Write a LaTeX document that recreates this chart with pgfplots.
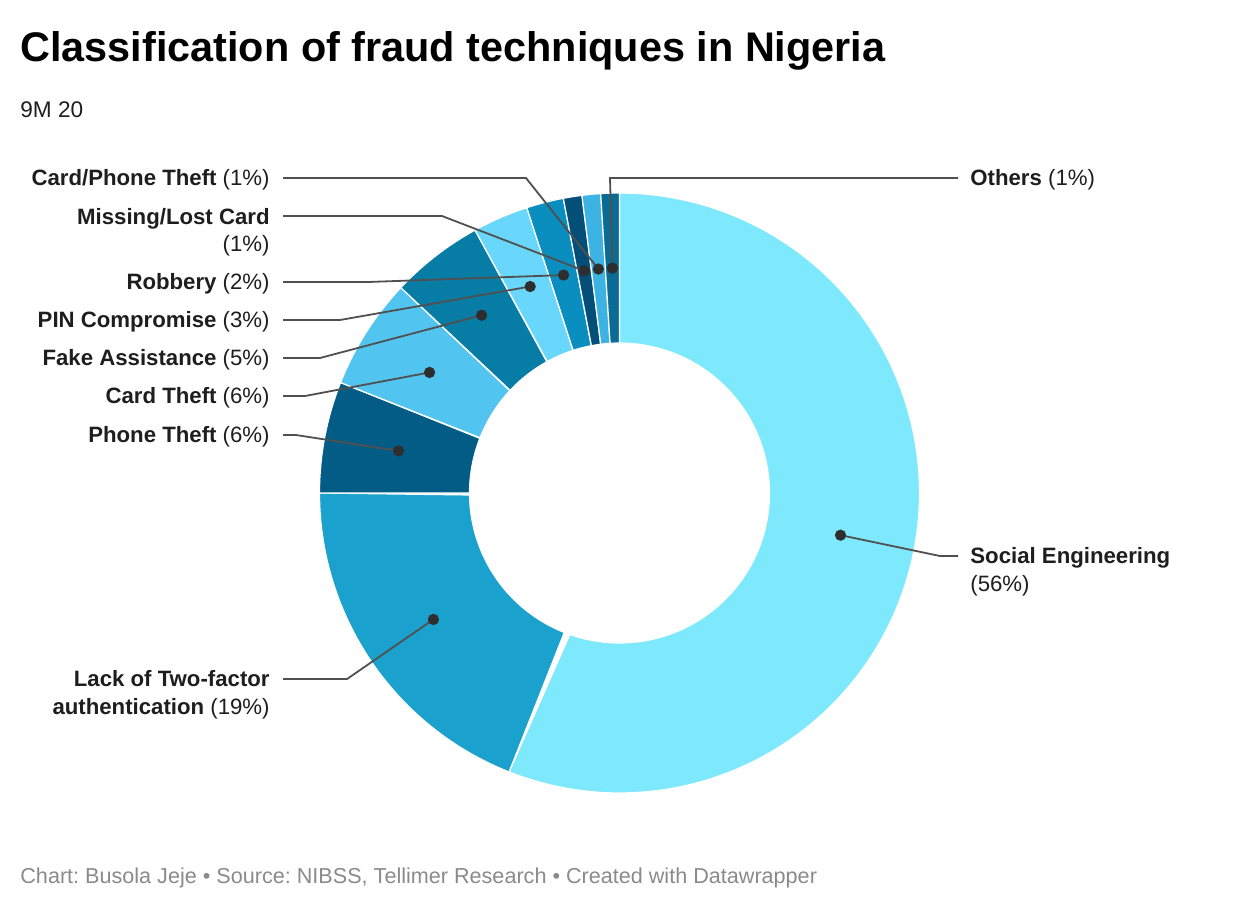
\documentclass[border=0pt]{standalone}
\usepackage{pgfplots}
\pgfplotsset{compat=1.18}
\usepackage{fontspec}
\setmainfont{Liberation Sans}
\frenchspacing

\definecolor{cSE}{HTML}{7EE9FD}
\definecolor{cLTF}{HTML}{1BA1CD}
\definecolor{cPT}{HTML}{035C86}
\definecolor{cCT}{HTML}{52C4F0}
\definecolor{cFA}{HTML}{077CA5}
\definecolor{cPIN}{HTML}{69D7FB}
\definecolor{cRB}{HTML}{098EBF}
\definecolor{cML}{HTML}{034F78}
\definecolor{cCP}{HTML}{3CB3E2}
\definecolor{cOT}{HTML}{0A6C94}
\definecolor{leadc}{HTML}{505050}
\definecolor{dotc}{HTML}{2E2E2E}
\definecolor{labc}{HTML}{1E1E1E}
\definecolor{footc}{HTML}{8A8A8A}

% donut geometry (pixel units): centre, outer and inner radius
\def\cx{619.5}\def\cy{493}\def\Ro{300}\def\Ri{150}\def\Rm{225}

% dot position at the middle of a slice: name, cumulative share before, share
\newcommand\dotpos[3]{%
  \pgfmathsetmacro\tmpang{90-3.6*(#2+#3/2)}%
  \expandafter\pgfmathsetmacro\csname dx#1\endcsname{\cx+\Rm*cos(\tmpang)}%
  \expandafter\pgfmathsetmacro\csname dy#1\endcsname{\cy-\Rm*sin(\tmpang)}%
}
% shares (%), clockwise from the top
\dotpos{SE}{0}{56}
\dotpos{LTF}{56}{19}
\dotpos{PT}{75}{6}
\dotpos{CT}{81}{6}
\dotpos{FA}{87}{5}
\dotpos{PIN}{92}{3}
\dotpos{RB}{95}{2}
\dotpos{ML}{97}{1}
\dotpos{CP}{98}{1}
\dotpos{OT}{99}{1}

% donut slice: cumulative share before, share, colour
\newcommand\donutslice[3]{%
  \addplot[fill=#3, draw=white, line width=0.6pt, domain=0:2, samples=181, variable=\t]
   ({\cx + (\t<=1 ? \Ro : \Ri)*cos(90-3.6*(#1 + (\t<=1 ? #2*\t : #2*(2-\t))))},
    {\cy - (\t<=1 ? \Ro : \Ri)*sin(90-3.6*(#1 + (\t<=1 ? #2*\t : #2*(2-\t))))}) -- cycle;
}

\newcommand\lab[1]{\textbf{#1}}

\begin{document}
\begin{tikzpicture}
\begin{axis}[
  width=620pt, height=455pt, scale only axis,
  xmin=0, xmax=1240, ymin=0, ymax=910, y dir=reverse,
  hide axis, clip=false,
  leader/.style={leadc, line width=0.9pt, mark=none},
]
\path (axis cs:0,0) rectangle (axis cs:1240,910);

\donutslice{0}{56}{cSE}
\donutslice{56}{19}{cLTF}
\donutslice{75}{6}{cPT}
\donutslice{81}{6}{cCT}
\donutslice{87}{5}{cFA}
\donutslice{92}{3}{cPIN}
\donutslice{95}{2}{cRB}
\donutslice{97}{1}{cML}
\donutslice{98}{1}{cCP}
\donutslice{99}{1}{cOT}

% leader lines
\addplot[leader] coordinates {(\dxSE,\dySE) (940,556) (958,556)};
\addplot[leader] coordinates {(\dxLTF,\dyLTF) (347,679) (283,679)};
\addplot[leader] coordinates {(\dxPT,\dyPT) (296,435) (283,435)};
\addplot[leader] coordinates {(\dxCT,\dyCT) (305,396) (283,396)};
\addplot[leader] coordinates {(\dxFA,\dyFA) (320,358) (283,358)};
\addplot[leader] coordinates {(\dxPIN,\dyPIN) (340,320) (283,320)};
\addplot[leader] coordinates {(\dxRB,\dyRB) (368,282) (283,282)};
\addplot[leader] coordinates {(\dxML,\dyML) (442,216) (283,216)};
\addplot[leader] coordinates {(\dxCP,\dyCP) (526,178) (283,178)};
\addplot[leader] coordinates {(\dxOT,\dyOT) (610,178) (958,178)};

% dots
\addplot[only marks, mark=*, mark size=2.6pt, color=dotc] coordinates {
  (\dxSE,\dySE) (\dxLTF,\dyLTF) (\dxPT,\dyPT) (\dxCT,\dyCT) (\dxFA,\dyFA)
  (\dxPIN,\dyPIN) (\dxRB,\dyRB) (\dxML,\dyML) (\dxCP,\dyCP) (\dxOT,\dyOT)};

% titles
\node[anchor=base west, inner sep=0pt, font=\fontsize{20.7}{24}\selectfont\bfseries]
  at (axis cs:20,61) {Classification of fraud techniques in Nigeria};
\node[anchor=base west, inner sep=0pt, font=\fontsize{11.3}{14}\selectfont, text=labc]
  at (axis cs:20,117) {9M 20};
\node[anchor=base west, inner sep=0pt, font=\fontsize{10.8}{12}\selectfont, text=footc]
  at (axis cs:20,883) {Chart: Busola Jeje • Source: NIBSS, Tellimer Research • Created with Datawrapper};

% labels
\begin{scope}[every node/.style={inner sep=0pt, font=\fontsize{11.1}{13}\selectfont, text=labc}]
\node[anchor=base east] at (axis cs:270,185) {\lab{Card/Phone Theft} (1\%)};
\node[anchor=base east] at (axis cs:270,224) {\lab{Missing/Lost Card}};
\node[anchor=base east] at (axis cs:270,251) {(1\%)};
\node[anchor=base east] at (axis cs:270,289) {\lab{Robbery} (2\%)};
\node[anchor=base east] at (axis cs:270,327) {\lab{PIN Compromise} (3\%)};
\node[anchor=base east] at (axis cs:270,365) {\lab{Fake Assistance} (5\%)};
\node[anchor=base east] at (axis cs:270,403) {\lab{Card Theft} (6\%)};
\node[anchor=base east] at (axis cs:270,442) {\lab{Phone Theft} (6\%)};
\node[anchor=base east] at (axis cs:270,686) {\lab{Lack of Two-factor}};
\node[anchor=base east] at (axis cs:270,714) {\lab{authentication} (19\%)};
\node[anchor=base west] at (axis cs:970,185) {\lab{Others} (1\%)};
\node[anchor=base west] at (axis cs:970,563) {\lab{Social Engineering}};
\node[anchor=base west] at (axis cs:970,591) {(56\%)};
\end{scope}
\end{axis}
\end{tikzpicture}
\end{document}
